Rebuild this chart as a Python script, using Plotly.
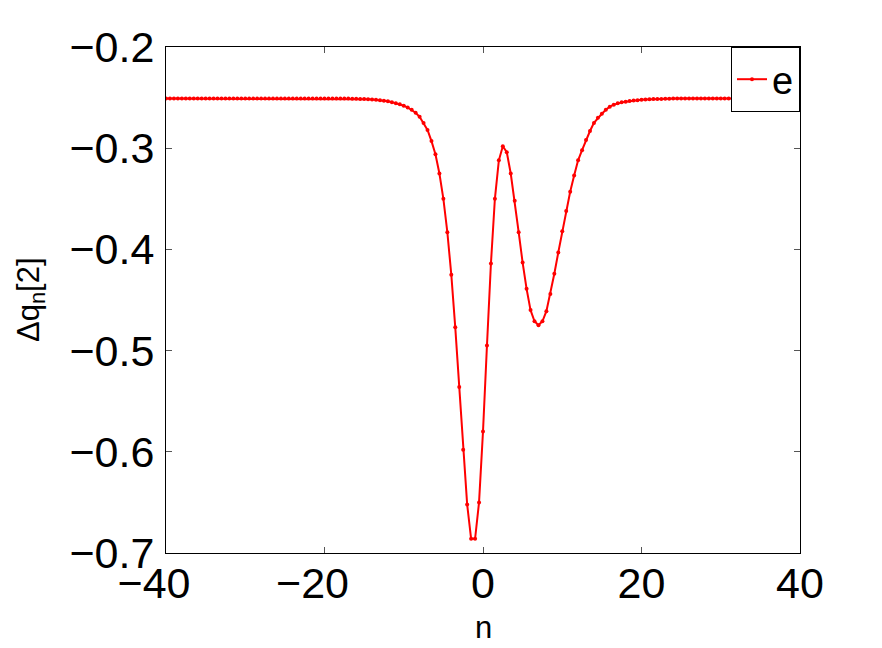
import plotly.graph_objects as go

n_values = [
    -40.0, -39.5, -39.0, -38.5, -38.0, -37.5, -37.0, -36.5, -36.0, -35.5,
    -35.0, -34.5, -34.0, -33.5, -33.0, -32.5, -32.0, -31.5, -31.0, -30.5,
    -30.0, -29.5, -29.0, -28.5, -28.0, -27.5, -27.0, -26.5, -26.0, -25.5,
    -25.0, -24.5, -24.0, -23.5, -23.0, -22.5, -22.0, -21.5, -21.0, -20.5,
    -20.0, -19.5, -19.0, -18.5, -18.0, -17.5, -17.0, -16.5, -16.0, -15.5,
    -15.0, -14.5, -14.0, -13.5, -13.0, -12.5, -12.0, -11.5, -11.0, -10.5,
    -10.0, -9.5, -9.0, -8.5, -8.0, -7.5, -7.0, -6.5, -6.0, -5.5,
    -5.0, -4.5, -4.0, -3.5, -3.0, -2.5, -2.0, -1.5, -1.0, -0.5,
    0.0, 0.5, 1.0, 1.5, 2.0, 2.5, 3.0, 3.5, 4.0, 4.5,
    5.0, 5.5, 6.0, 6.5, 7.0, 7.5, 8.0, 8.5, 9.0, 9.5,
    10.0, 10.5, 11.0, 11.5, 12.0, 12.5, 13.0, 13.5, 14.0, 14.5,
    15.0, 15.5, 16.0, 16.5, 17.0, 17.5, 18.0, 18.5, 19.0, 19.5,
    20.0, 20.5, 21.0, 21.5, 22.0, 22.5, 23.0, 23.5, 24.0, 24.5,
    25.0, 25.5, 26.0, 26.5, 27.0, 27.5, 28.0, 28.5, 29.0, 29.5,
    30.0, 30.5, 31.0, 31.5, 32.0, 32.5, 33.0, 33.5, 34.0, 34.5,
    35.0, 35.5, 36.0, 36.5, 37.0, 37.5, 38.0, 38.5, 39.0, 39.5,
    40.0,
]

dq_values = [
    -0.2510, -0.2510, -0.2510, -0.2510, -0.2510, -0.2510, -0.2510, -0.2510, -0.2510, -0.2510,
    -0.2510, -0.2510, -0.2510, -0.2510, -0.2510, -0.2510, -0.2510, -0.2510, -0.2510, -0.2510,
    -0.2510, -0.2510, -0.2510, -0.2510, -0.2510, -0.2510, -0.2510, -0.2510, -0.2510, -0.2510,
    -0.2510, -0.2510, -0.2510, -0.2510, -0.2510, -0.2510, -0.2510, -0.2510, -0.2510, -0.2510,
    -0.2510, -0.2510, -0.2510, -0.2510, -0.2510, -0.2510, -0.2510, -0.2511, -0.2512, -0.2513,
    -0.2515, -0.2517, -0.2519, -0.2522, -0.2526, -0.2531, -0.2537, -0.2545, -0.2555, -0.2566,
    -0.2580, -0.2598, -0.2620, -0.2650, -0.2690, -0.2750, -0.2820, -0.2930, -0.3060, -0.3250,
    -0.3500, -0.3830, -0.4250, -0.4770, -0.5360, -0.5980, -0.6520, -0.6860, -0.6860, -0.6500,
    -0.5800, -0.4950, -0.4140, -0.3500, -0.3120, -0.2980, -0.3040, -0.3250, -0.3520, -0.3830,
    -0.4130, -0.4390, -0.4600, -0.4710, -0.4750, -0.4710, -0.4610, -0.4440, -0.4240, -0.4030,
    -0.3820, -0.3620, -0.3430, -0.3270, -0.3120, -0.3020, -0.2920, -0.2830, -0.2750, -0.2700,
    -0.2660, -0.2620, -0.2590, -0.2570, -0.2557, -0.2547, -0.2540, -0.2534, -0.2529, -0.2525,
    -0.2522, -0.2519, -0.2517, -0.2515, -0.2514, -0.2513, -0.2512, -0.2511, -0.2510, -0.2510,
    -0.2510, -0.2510, -0.2510, -0.2510, -0.2510, -0.2510, -0.2510, -0.2510, -0.2510, -0.2510,
    -0.2510, -0.2510, -0.2510, -0.2510, -0.2510, -0.2510, -0.2510, -0.2510, -0.2510, -0.2510,
    -0.2510, -0.2510, -0.2510, -0.2510, -0.2510, -0.2510, -0.2510, -0.2510, -0.2510, -0.2510,
    -0.2510,
]

x_ticks = [-40, -20, 0, 20, 40]
# MATLAB centres the digits, letting the minus sign hang to the left
x_tick_text = ["\u221240\u2007", "\u221220\u2007", "0", "20", "40"]
y_ticks = [-0.7, -0.6, -0.5, -0.4, -0.3, -0.2]
series_name = "e"
x_label = "n"
y_label = "Δq<sub>n</sub>[2]"

FONT = "Liberation Sans, Arial, Helvetica, sans-serif"

fig = go.Figure()
fig.add_trace(go.Scatter(
    x=n_values, y=dq_values, name=series_name,
    mode="lines+markers",
    line=dict(color="#ff0000", width=2),
    marker=dict(color="#ff0000", size=4),
    showlegend=True,
))

axis_common = dict(
    showgrid=False, zeroline=False,
    showline=True, linecolor="black", linewidth=1, mirror="ticks",
    ticks="inside", ticklen=6, tickcolor="#555555", tickwidth=1,
    tickfont=dict(family=FONT, size=43, color="black"),
)

fig.update_xaxes(range=[-40, 40], tickvals=x_ticks, ticktext=x_tick_text,
                 ticklabelstandoff=-8, **axis_common)
fig.update_yaxes(range=[-0.7, -0.2], tickvals=y_ticks, tickformat=".1f",
                 ticklabelstandoff=2, **axis_common)

fig.add_annotation(text=x_label, xref="paper", yref="paper", x=0.5, y=-0.148,
                   xanchor="center", yanchor="middle", showarrow=False,
                   font=dict(family=FONT, size=31, color="black"))
fig.add_annotation(text=y_label, xref="paper", yref="paper", x=-0.213, y=0.5,
                   xanchor="center", yanchor="middle", showarrow=False, textangle=-90,
                   font=dict(family=FONT, size=31, color="black"))

# page body has an 8px default margin, so the figure is shifted by 8px
fig.update_layout(
    width=874, height=640,
    margin=dict(l=158, r=82, t=39, b=95, autoexpand=False),
    paper_bgcolor="white", plot_bgcolor="white",
    legend=dict(x=1, y=1, xanchor="right", yanchor="top",
                bgcolor="white", bordercolor="black", borderwidth=1,
                font=dict(family=FONT, size=38, color="black"),
                tracegroupgap=0),
)

fig.write_html("out.html")
